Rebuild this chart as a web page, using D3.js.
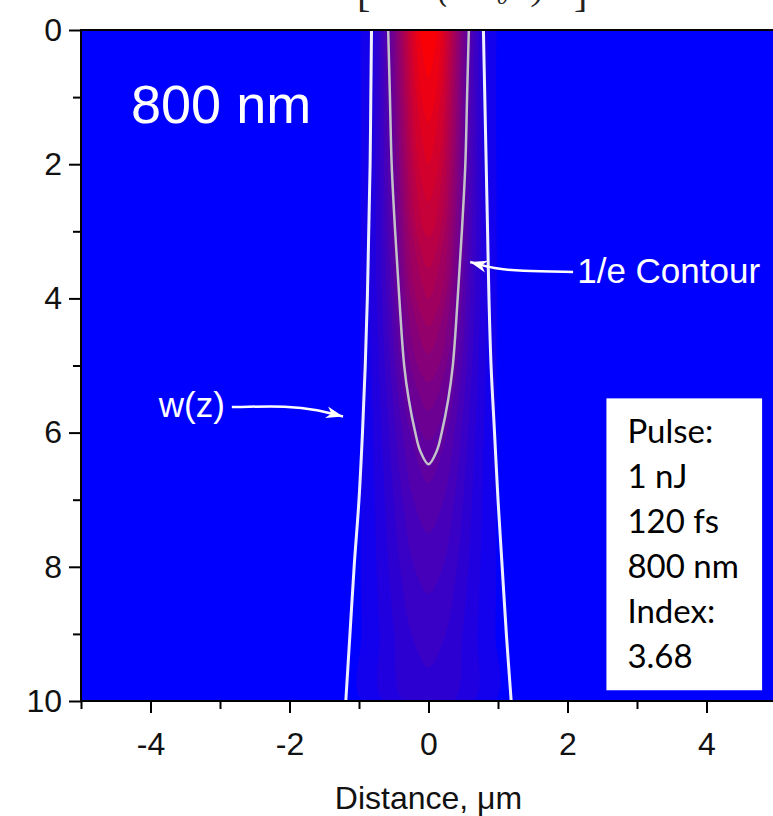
<!DOCTYPE html>
<html>
<head>
<meta charset="utf-8">
<script src="https://cdnjs.cloudflare.com/ajax/libs/d3/7.8.5/d3.min.js"></script>
<style>
    body { margin: 0; background: #fff; }
    svg { display: block; }
</style>
</head>
<body>
<div id="chartarea"></div>
<script>
// axis ticks
const xTicks = [-4, -2, 0, 2, 4];
const xMinorTicks = [-5, -3, -1, 1, 3, 5];
const yTicks = [0, 2, 4, 6, 8, 10];
const yMinorTicks = [1, 3, 5, 7, 9];

// filled intensity contours (fraction of peak), half-width in um at each depth
const contourZ = [0, 1, 2, 3, 4, 5, 6, 7, 8, 9, 10];
const contourLevels = [0.05, 0.10, 0.15, 0.20, 0.25, 0.30, 0.35, 0.40, 0.45, 0.50,
                       0.55, 0.60, 0.65, 0.70, 0.75, 0.80, 0.85, 0.90, 0.95];
const contourHalfWidths = [
    [0.979, 0.973, 0.976, 0.980, 0.985, 0.978, 0.974, 0.971, 0.973, 0.964, 0.952],
    [0.858, 0.850, 0.848, 0.846, 0.842, 0.822, 0.798, 0.773, 0.747, 0.703, 0.645],
    [0.779, 0.769, 0.764, 0.757, 0.745, 0.715, 0.674, 0.628, 0.575, 0.490, 0.359],
    [0.718, 0.706, 0.697, 0.686, 0.668, 0.628, 0.569, 0.500, 0.411, 0.245],
    [0.666, 0.652, 0.641, 0.626, 0.601, 0.552, 0.473, 0.373, 0.208],
    [0.621, 0.605, 0.592, 0.573, 0.541, 0.480, 0.375, 0.218],
    [0.580, 0.563, 0.546, 0.523, 0.484, 0.410, 0.267],
    [0.542, 0.523, 0.503, 0.476, 0.429, 0.338, 0.106],
    [0.506, 0.485, 0.462, 0.430, 0.373, 0.257],
    [0.471, 0.448, 0.422, 0.384, 0.315, 0.154],
    [0.437, 0.412, 0.383, 0.338, 0.251],
    [0.404, 0.377, 0.342, 0.289, 0.174],
    [0.371, 0.341, 0.300, 0.235],
    [0.338, 0.303, 0.256, 0.170],
    [0.303, 0.264, 0.205, 0.068],
    [0.267, 0.221, 0.143],
    [0.228, 0.171],
    [0.184, 0.103],
    [0.128]
];
// depth where each closed contour ends on the axis (null = open at bottom)
const contourTipZ = [null, null, null, 9.5, 8.4, 7.5, 6.75, 6.125, 5.67, 5.25,
                     4.83, 4.42, 4.0, 3.55, 3.09, 2.56, 2.0, 1.375, 0.714];

// beam radius w(z)
const beamZ = [0, 1, 2, 3, 4, 5, 6, 7, 8, 9, 10];
const beamLeft = [-0.82, -0.83, -0.84, -0.86, -0.88, -0.91, -0.95, -1.00, -1.07, -1.13, -1.19];
const beamRight = [0.79, 0.81, 0.83, 0.85, 0.87, 0.90, 0.95, 1.00, 1.06, 1.12, 1.19];

// 1/e contour
const eContourZ = [0, 1, 2, 3, 4, 5, 5.5, 6, 6.27, 6.47];
const eContourHalfWidth = [0.58, 0.555, 0.53, 0.48, 0.42, 0.35, 0.285, 0.19, 0.12, 0];

const pulseLines = ['Pulse:', '1 nJ', '120 fs', '800 nm', 'Index:', '3.68'];

const margin = { top: 30, left: 81 };
const width = 695;
const height = 671;

const svg = d3.select('#chartarea')
    .append('svg')
        .attr('width', 773)
        .attr('height', 816);

const defs = svg.append('defs');
defs.append('clipPath')
    .attr('id', 'plotclip')
    .append('rect')
        .attr('width', width)
        .attr('height', height);

defs.append('marker')
    .attr('id', 'arrowhead')
    .attr('viewBox', '-18 -8 20 16')
    .attr('refX', 0)
    .attr('refY', 0)
    .attr('markerWidth', 20)
    .attr('markerHeight', 16)
    .attr('markerUnits', 'userSpaceOnUse')
    .attr('orient', 'auto')
    .append('path')
        .attr('d', 'M0,0L-17,-6L-12,0L-17,6Z')
        .attr('fill', '#fff');

const group = svg.append('g')
    .attr('transform', `translate(${margin.left}, ${margin.top})`);

const x = d3.scaleLinear().domain([-5, 5]).range([0, width]);
const y = d3.scaleLinear().domain([0, 10]).range([0, height]);
const color = d3.interpolateRgb('#0000ff', '#ff0000');

const line = d3.line()
    .x(d => x(d[0]))
    .y(d => y(d[1]))
    .curve(d3.curveCatmullRom.alpha(0.5));

const plot = group.append('g').attr('clip-path', 'url(#plotclip)');

plot.append('rect')
    .attr('width', width)
    .attr('height', height)
    .attr('fill', '#0000ff');

// filled contours, lowest level first
contourLevels.forEach((lev, i) => {
    const hw = contourHalfWidths[i];
    const pts = hw.map((h, k) => [-h, contourZ[k]]);
    if (contourTipZ[i] !== null) pts.push([0, contourTipZ[i]]);
    for (let k = hw.length - 1; k >= 0; k--) pts.push([hw[k], contourZ[k]]);
    plot.append('path')
        .attr('d', line(pts) + 'Z')
        .attr('fill', color(lev + 0.025));
});

// w(z) lines
[beamLeft, beamRight].forEach(side => {
    plot.append('path')
        .attr('d', line(side.map((v, k) => [v, beamZ[k]])))
        .attr('fill', 'none')
        .attr('stroke', '#eef0ff')
        .attr('stroke-width', 3);
});

// 1/e contour
const ePts = eContourHalfWidth.map((h, k) => [-h, eContourZ[k]]);
for (let k = eContourHalfWidth.length - 2; k >= 0; k--) ePts.push([eContourHalfWidth[k], eContourZ[k]]);
plot.append('path')
    .attr('d', line(ePts))
    .attr('fill', 'none')
    .attr('stroke', '#c2c2c8')
    .attr('stroke-width', 2.5);

// annotations
const arrowLine = d3.line()
    .x(d => x(d[0]))
    .y(d => y(d[1]))
    .curve(d3.curveBasis);

plot.append('text')
    .attr('x', x(-4.28))
    .attr('y', y(1.39))
    .attr('font-family', 'Liberation Sans, Arial, sans-serif')
    .attr('font-size', 54)
    .attr('fill', '#fff')
    .text('800 nm');

plot.append('text')
    .attr('x', x(-2.93))
    .attr('y', y(5.77))
    .attr('text-anchor', 'end')
    .attr('font-family', 'Liberation Sans, Arial, sans-serif')
    .attr('font-size', 35)
    .attr('fill', '#fff')
    .text('w(z)');

plot.append('path')
    .attr('d', arrowLine([[-2.83, 5.62], [-2.0, 5.6], [-1.6, 5.66], [-1.23, 5.76]]))
    .attr('fill', 'none')
    .attr('stroke', '#fff')
    .attr('stroke-width', 2.5)
    .attr('marker-end', 'url(#arrowhead)');

plot.append('text')
    .attr('x', x(2.14))
    .attr('y', y(3.77))
    .attr('font-family', 'Liberation Sans, Arial, sans-serif')
    .attr('font-size', 35)
    .attr('fill', '#fff')
    .text('1/e Contour');

plot.append('path')
    .attr('d', arrowLine([[2.08, 3.607], [1.3, 3.59], [0.95, 3.56], [0.6, 3.457]]))
    .attr('fill', 'none')
    .attr('stroke', '#fff')
    .attr('stroke-width', 2.5)
    .attr('marker-end', 'url(#arrowhead)');

// pulse info box
const boxX = x(2.56), boxY = y(5.49);
plot.append('rect')
    .attr('x', boxX)
    .attr('y', boxY)
    .attr('width', x(4.80) - boxX)
    .attr('height', y(9.84) - boxY)
    .attr('fill', '#fff');

plot.append('g')
    .selectAll('text')
    .data(pulseLines)
    .enter()
    .append('text')
        .attr('x', boxX + 21)
        .attr('y', (d, i) => boxY + 45 + i * 45)
        .attr('font-family', 'Lato, Carlito, Calibri, sans-serif')
        .attr('font-size', 33)
        .attr('fill', '#000')
        .text(d => d);

// axes
const styleAxis = g => {
    g.select('.domain').remove();
    g.selectAll('line').attr('stroke', '#000').attr('stroke-width', 2);
    g.selectAll('text')
        .attr('font-family', 'Liberation Sans, Arial, sans-serif')
        .attr('font-size', 32)
        .attr('fill', '#111');
};

group.append('g')
    .attr('class', 'y axis')
    .call(d3.axisLeft(y).tickValues(yTicks).tickSize(12).tickPadding(7).tickFormat(d => String(d)))
    .call(styleAxis);

group.append('g')
    .attr('class', 'y axis minor')
    .call(d3.axisLeft(y).tickValues(yMinorTicks).tickSize(8).tickFormat(''))
    .call(styleAxis);

group.append('g')
    .attr('class', 'x axis')
    .attr('transform', `translate(0, ${height})`)
    .call(d3.axisBottom(x).tickValues(xTicks).tickSize(12).tickPadding(19).tickFormat(d => String(d)))
    .call(styleAxis);

group.append('g')
    .attr('class', 'x axis minor')
    .attr('transform', `translate(0, ${height})`)
    .call(d3.axisBottom(x).tickValues(xMinorTicks).tickSize(8).tickFormat(''))
    .call(styleAxis);

// frame
group.append('path')
    .attr('d', `M${width},0H0V${height}H${width}`)
    .attr('fill', 'none')
    .attr('stroke', '#000')
    .attr('stroke-width', 2);

// x label
group.append('text')
    .attr('x', x(0))
    .attr('y', height + 108)
    .attr('text-anchor', 'middle')
    .attr('font-family', 'Liberation Sans, Arial, sans-serif')
    .attr('font-size', 32)
    .attr('fill', '#111')
    .text('Distance, \u03bcm');

// cut-off formula fragments above the plot
const formula = svg.append('g')
    .attr('font-family', 'Liberation Serif, serif')
    .attr('fill', '#222');
formula.append('text').attr('x', 357).attr('y', 7).attr('font-size', 40).text('[');
formula.append('text').attr('x', 574).attr('y', 7).attr('font-size', 40).text(']');
formula.append('text').attr('x', 438).attr('y', 0).attr('font-size', 34).attr('font-style', 'italic').text('(');
formula.append('text').attr('x', 533).attr('y', 0).attr('font-size', 34).attr('font-style', 'italic').text(')');
formula.append('text').attr('x', 497).attr('y', 4).attr('font-size', 22).attr('font-style', 'italic').text('0');
</script>
</body>
</html>
